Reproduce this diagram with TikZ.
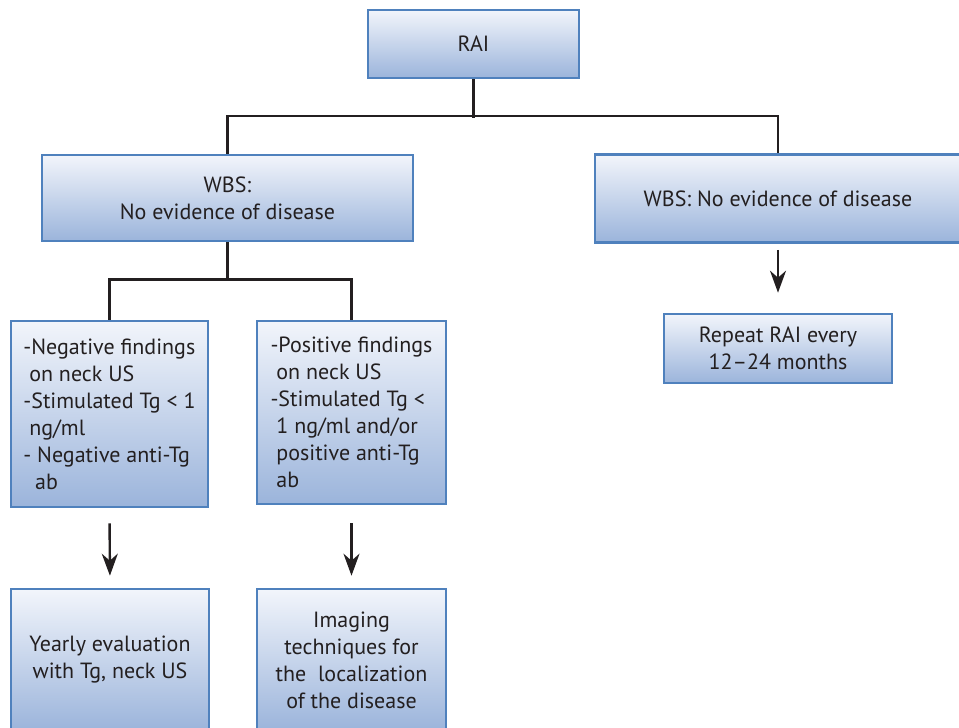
\documentclass[tikz,border=0pt]{standalone}
\usepackage{fontspec}
\setmainfont{PT Sans}
\usepackage{xcolor}
\usepackage{tikz}
\usetikzlibrary{arrows.meta}

\definecolor{boxtop}{RGB}{242,245,251}
\definecolor{boxbot}{RGB}{155,180,219}
\definecolor{boxline}{RGB}{79,129,189}
\definecolor{ink}{HTML}{231F20}

\tikzset{
  box/.style={draw=boxline, line width=1.3pt, top color=boxtop, bottom color=boxbot,
    text=ink, align=center, inner sep=0pt,
    font=\fontsize{11}{13.5}\selectfont},
  listbox/.style={box, align=left},
  link/.style={line width=1.2pt, ink},
  arr/.style={link, -{Stealth[length=11pt,width=8pt,inset=3.5pt]}}
}

\begin{document}
\begin{tikzpicture}[x=0.5pt,y=-0.5pt]
\clip (0,0) rectangle (959,728);

% top and second row
\node[box, minimum width=105.5pt, minimum height=34pt] (rai) at (473.5,44) {RAI};
\node[box, minimum width=185.5pt, minimum height=43pt] (wbsA) at (227.5,198) {WBS:\\No evidence of disease};
\node[box, minimum width=183pt, minimum height=44pt] (wbsB) at (778,198.5) {WBS: No evidence of disease};
\node[box, minimum width=114pt, minimum height=34.5pt] (rpt) at (778,348.5) {Repeat RAI every\\12--24 months};

% findings
\node[listbox, minimum width=98.5pt, minimum height=93pt] (neg) at (109.5,414)
  {-Negative findings\\\ on neck US\\-Stimulated Tg < 1\\\ ng/ml\\- Negative anti-Tg\\\ \ ab};
\node[listbox, minimum width=94.5pt, minimum height=91.5pt] (pos) at (351.5,412.5)
  {-Positive findings\\\ on neck US\\-Stimulated Tg <\\\ 1 ng/ml and/or\\\ positive anti-Tg\\\ ab};

% follow-up
\node[box, minimum width=99pt, minimum height=71pt] (yearly) at (110,660) {Yearly evaluation\\with Tg, neck US};
\node[box, minimum width=94.5pt, minimum height=71pt] (imaging) at (351.5,660)
  {Imaging\\techniques for\\the\ \ localization\\of the disease};

% tree lines
\draw[link] (rai.south) -- ++(0,39);
\draw[link] (wbsA.north) -- ++(0,-38) -| (wbsB.north);
\draw[link] (wbsA.south) -- ++(0,37) coordinate (split);
\draw[link] (neg.north) |- (split) -| (pos.north);

% arrows
\foreach \a/\b/\s/\e in {neg/yearly/7.5/6, pos/imaging/9/6, wbsB/rpt/3/10}
  \draw[arr, shorten <=\s pt, shorten >=\e pt] (\a.south) -- (\b.north);
\end{tikzpicture}
\end{document}
